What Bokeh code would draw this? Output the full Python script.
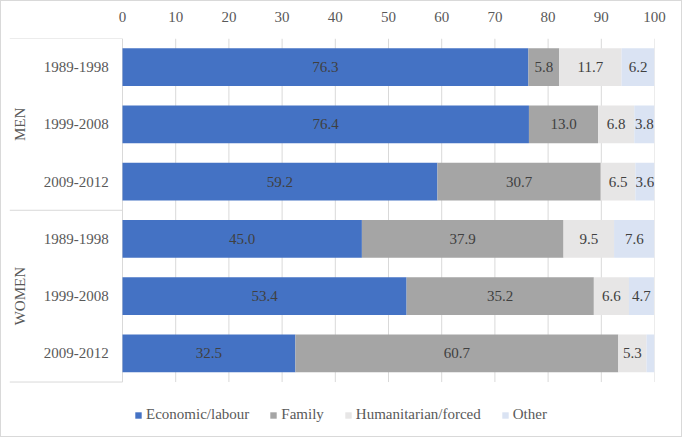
import math
from bokeh.plotting import figure
from bokeh.models import (ColumnDataSource, FixedTicker, Legend, LegendItem, Range1d)
from bokeh.core.properties import value
from bokeh.embed import file_html
from bokeh.resources import INLINE

groups = ["MEN", "WOMEN"]
periods = ["1989-1998", "1999-2008", "2009-2012"]
series = ["Economic/labour", "Family", "Humanitarian/forced", "Other"]
economic = [76.3, 76.4, 59.2, 45.0, 53.4, 32.5]
family = [5.8, 13.0, 30.7, 37.9, 35.2, 60.7]
humanitarian = [11.7, 6.8, 6.5, 9.5, 6.6, 5.3]
other = [6.2, 3.8, 3.6, 7.6, 4.7, 1.5]
x_ticks = [0, 10, 20, 30, 40, 50, 60, 70, 80, 90, 100]

colors = ["#4472C4", "#A5A5A5", "#E7E6E6", "#DAE3F3"]
FONT = "Liberation Serif"
TXT = "#595959"

n_rows = len(groups) * len(periods)
row_y = [n_rows - 0.5 - i for i in range(n_rows)]
row_labels = [p_ for g in groups for p_ in periods]

X_MIN = -21.24       # label area to the left of 0
Y_MIN = -0.986       # legend area below the rows

src = ColumnDataSource(dict(y=row_y, economic=economic, family=family,
                            humanitarian=humanitarian, other=other))

p = figure(width=682, height=437, x_range=Range1d(X_MIN, 100), y_range=Range1d(Y_MIN, n_rows),
           x_axis_location="above", y_axis_location=None,
           output_backend="svg", toolbar_location=None,
           min_border_left=8, min_border_right=29, min_border_top=37, min_border_bottom=0)
p.outline_line_color = None
p.xgrid.grid_line_color = None
p.ygrid.grid_line_color = None
p.styles = {"border": "1.5px solid #D9D9D9"}

# vertical grid lines over the bar region
p.segment(x0=x_ticks, x1=x_ticks, y0=[0] * len(x_ticks), y1=[n_rows] * len(x_ticks),
          line_color="#D9D9D9", line_width=1)

# group separators across the label area
bounds = [n_rows - len(periods) * k for k in range(len(groups) + 1)]
p.segment(x0=[X_MIN] * len(bounds), x1=[0] * len(bounds), y0=bounds, y1=bounds,
          line_color="#D9D9D9", line_width=1)

keys = ["economic", "family", "humanitarian", "other"]
rends = p.hbar_stack(keys, y="y", height=0.66, color=colors, line_color=None, source=src)

# value labels
lx, ly, lt = [], [], []
for i in range(n_rows):
    left = 0.0
    for arr in (economic, family, humanitarian, other):
        v = arr[i]
        if v >= 2:
            lx.append(left + v / 2)
            ly.append(row_y[i])
            lt.append(f"{v:.1f}")
        left += v
p.text(x=lx, y=ly, text=lt, text_align="center", text_baseline="middle",
       text_font=value(FONT), text_font_size="15px", text_color="#404040")

# period labels
p.text(x=[-2.6] * n_rows, y=row_y, text=row_labels, text_align="right", text_baseline="middle",
       text_font=value(FONT), text_font_size="15px", text_color=TXT)

# group labels
g_y = [n_rows - len(periods) * (k + 0.5) for k in range(len(groups))]
p.text(x=[-19.2] * len(groups), y=g_y, text=groups, angle=math.pi / 2,
       text_align="center", text_baseline="middle",
       text_font=value(FONT), text_font_size="15px", text_color=TXT)

# top x axis
xa = p.xaxis[0]
xa.ticker = FixedTicker(ticks=x_ticks)
xa.axis_line_color = None
xa.major_tick_line_color = None
xa.minor_tick_line_color = None
xa.major_label_text_font = FONT
xa.major_label_text_font_size = "15px"
xa.major_label_text_color = TXT
xa.major_label_standoff = 11

legend = Legend(items=[LegendItem(label=s, renderers=[r]) for s, r in zip(series, rends)],
                orientation="horizontal", location=(125, 15), glyph_width=8, glyph_height=8,
                label_text_font=FONT, label_text_font_size="15px",
                label_text_color=TXT,
                label_standoff=4, spacing=20, padding=2, margin=0,
                border_line_color=None, background_fill_alpha=0)
p.add_layout(legend, "center")

open("out.html", "w").write(file_html(p, INLINE))
